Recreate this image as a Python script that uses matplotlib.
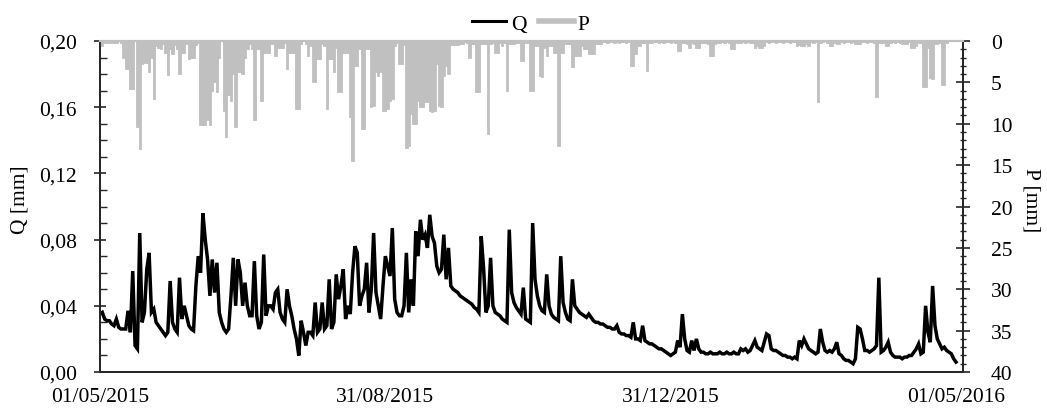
import datetime as dt
import matplotlib.pyplot as plt
import matplotlib.dates as mdates
from matplotlib.lines import Line2D
from matplotlib.ticker import MultipleLocator, FixedLocator, FuncFormatter

start = dt.date(2015, 5, 1)

# daily discharge Q [mm]
q_mm = [
    0.035, 0.036, 0.032, 0.031, 0.031, 0.029, 0.028, 0.032, 0.027, 0.026,
    0.026, 0.026, 0.037, 0.024, 0.061, 0.016, 0.014, 0.084, 0.030, 0.036,
    0.062, 0.072, 0.036, 0.038, 0.030, 0.028, 0.026, 0.024, 0.022, 0.024,
    0.055, 0.030, 0.026, 0.024, 0.057, 0.032, 0.040, 0.034, 0.028, 0.026,
    0.025, 0.052, 0.070, 0.060, 0.096, 0.080, 0.068, 0.046, 0.068, 0.048,
    0.066, 0.036, 0.030, 0.026, 0.024, 0.026, 0.046, 0.069, 0.040, 0.068,
    0.060, 0.040, 0.054, 0.040, 0.034, 0.034, 0.067, 0.034, 0.026, 0.030,
    0.071, 0.034, 0.040, 0.040, 0.038, 0.048, 0.050, 0.036, 0.032, 0.030,
    0.050, 0.040, 0.034, 0.026, 0.020, 0.010, 0.031, 0.024, 0.016, 0.024,
    0.024, 0.022, 0.042, 0.024, 0.026, 0.042, 0.026, 0.028, 0.056, 0.026,
    0.030, 0.059, 0.044, 0.052, 0.062, 0.032, 0.040, 0.035, 0.060, 0.076,
    0.072, 0.040, 0.046, 0.050, 0.066, 0.036, 0.050, 0.084, 0.048, 0.040,
    0.032, 0.052, 0.070, 0.064, 0.058, 0.087, 0.044, 0.036, 0.034, 0.034,
    0.040, 0.072, 0.036, 0.056, 0.040, 0.085, 0.070, 0.092, 0.080, 0.083,
    0.075, 0.095, 0.082, 0.078, 0.064, 0.060, 0.062, 0.083, 0.056, 0.075,
    0.052, 0.050, 0.049, 0.048, 0.046, 0.045, 0.044, 0.043, 0.042, 0.041,
    0.039, 0.038, 0.036, 0.082, 0.063, 0.036, 0.040, 0.069, 0.040, 0.036,
    0.035, 0.034, 0.032, 0.031, 0.030, 0.086, 0.048, 0.042, 0.039, 0.037,
    0.035, 0.051, 0.032, 0.031, 0.030, 0.090, 0.056, 0.046, 0.040, 0.037,
    0.036, 0.059, 0.040, 0.035, 0.033, 0.032, 0.031, 0.070, 0.042, 0.036,
    0.032, 0.031, 0.056, 0.040, 0.038, 0.036, 0.035, 0.034, 0.033, 0.035,
    0.033, 0.031, 0.030, 0.030, 0.029, 0.029, 0.028, 0.027, 0.027, 0.026,
    0.026, 0.028, 0.024, 0.023, 0.023, 0.022, 0.022, 0.021, 0.030, 0.020,
    0.020, 0.019, 0.028, 0.019, 0.018, 0.017, 0.017, 0.016, 0.015, 0.014,
    0.014, 0.013, 0.012, 0.011, 0.010, 0.011, 0.012, 0.019, 0.015, 0.035,
    0.020, 0.013, 0.012, 0.019, 0.013, 0.020, 0.014, 0.012, 0.012, 0.011,
    0.011, 0.012, 0.011, 0.011, 0.011, 0.012, 0.011, 0.011, 0.012, 0.011,
    0.011, 0.012, 0.011, 0.011, 0.014, 0.013, 0.014, 0.012, 0.013, 0.016,
    0.019, 0.015, 0.014, 0.013, 0.018, 0.023, 0.022, 0.014, 0.013, 0.013,
    0.012, 0.011, 0.010, 0.010, 0.009, 0.009, 0.008, 0.009, 0.008, 0.019,
    0.016, 0.020, 0.017, 0.014, 0.013, 0.012, 0.011, 0.012, 0.026, 0.018,
    0.013, 0.012, 0.013, 0.012, 0.014, 0.018, 0.011, 0.010, 0.008, 0.007,
    0.007, 0.006, 0.005, 0.008, 0.027, 0.026, 0.020, 0.013, 0.013, 0.012,
    0.013, 0.014, 0.016, 0.057, 0.012, 0.013, 0.015, 0.018, 0.012, 0.010,
    0.009, 0.009, 0.009, 0.008, 0.009, 0.009, 0.010, 0.010, 0.012, 0.014,
    0.017, 0.011, 0.012, 0.040, 0.024, 0.018, 0.052, 0.028, 0.020, 0.017,
    0.014, 0.015, 0.013, 0.012, 0.011, 0.008, 0.006,
]

# daily precipitation P [mm]
p_mm = [
    0.6, 0.6, 0.3, 0.2, 0.2, 0.2, 0.2, 0.2, 0.0, 0.3,
    2.0, 3.4, 3.4, 5.8, 5.8, 0.0, 10.4, 13.0, 2.8, 2.6,
    2.6, 3.8, 2.0, 7.0, 0.6, 0.8, 1.0, 0.4, 1.5, 4.1,
    1.0, 1.6, 0.5, 1.0, 4.0, 1.5, 1.5, 0.4, 2.2, 2.1,
    2.1, 0.5, 0.3, 10.2, 10.2, 10.2, 9.5, 10.2, 6.0, 5.0,
    6.2, 2.0, 0.0, 8.4, 11.6, 6.5, 7.2, 4.0, 10.4, 3.8,
    3.8, 4.0, 2.0, 1.0, 0.4, 1.0, 9.6, 1.0, 1.0, 7.2,
    1.5, 1.5, 1.5, 0.4, 0.4, 1.8, 0.8, 0.8, 0.8, 0.2,
    3.4, 1.5, 1.5, 1.5, 8.2, 8.2, 0.4, 0.0, 0.4, 1.8,
    0.6, 5.0, 5.0, 2.2, 2.2, 0.4, 0.6, 8.2, 2.2, 2.2,
    3.8, 0.8, 6.2, 6.2, 1.4, 1.4, 1.4, 9.2, 14.5, 3.0,
    3.0, 1.0, 10.6, 10.6, 1.0, 1.0, 8.0, 7.8, 3.8, 4.2,
    3.8, 8.4, 8.4, 8.2, 7.2, 7.0, 0.6, 0.2, 2.8, 2.8,
    0.5, 12.9, 12.7, 8.8, 10.0, 10.0, 7.2, 8.0, 8.0, 7.4,
    7.4, 8.4, 8.6, 8.4, 2.8, 7.8, 8.0, 4.2, 3.0, 4.0,
    0.5, 0.5, 0.5, 0.5, 0.4, 0.4, 0.1, 0.2, 2.0, 0.4,
    0.4, 6.2, 6.2, 0.4, 0.4, 0.4, 11.2, 0.4, 0.2, 1.4,
    1.4, 0.2, 0.6, 0.2, 6.0, 0.4, 0.4, 0.4, 0.3, 0.3,
    2.4, 2.4, 0.3, 0.3, 6.0, 6.0, 0.6, 0.6, 4.2, 4.4,
    0.8, 1.8, 0.6, 0.6, 1.4, 1.4, 12.7, 1.4, 1.4, 0.4,
    0.4, 0.4, 3.2, 1.8, 1.8, 1.8, 0.6, 1.0, 1.0, 1.6,
    1.6, 1.6, 0.4, 0.4, 0.4, 0.1, 0.1, 0.2, 0.1, 0.1,
    0.3, 0.1, 0.2, 0.1, 0.1, 0.2, 0.1, 3.0, 3.0, 1.6,
    0.6, 0.6, 0.2, 0.2, 3.6, 0.2, 0.2, 0.1, 0.1, 0.3,
    0.1, 0.2, 0.1, 0.1, 0.2, 0.1, 0.3, 1.2, 1.2, 0.3,
    0.2, 0.4, 0.8, 0.2, 0.4, 0.8, 0.8, 0.2, 0.2, 0.3,
    0.4, 1.8, 1.8, 0.4, 0.2, 0.2, 0.1, 0.3, 0.1, 0.2,
    1.0, 1.0, 0.3, 0.2, 0.3, 0.1, 0.2, 0.1, 0.2, 0.3,
    0.8, 0.6, 0.8, 0.8, 0.6, 0.1, 0.2, 0.1, 0.1, 0.3,
    0.1, 0.1, 0.2, 0.1, 0.1, 0.2, 0.1, 0.1, 0.6, 0.5,
    0.6, 0.6, 0.4, 0.6, 0.1, 0.2, 0.1, 7.4, 0.2, 0.1,
    0.0, 0.2, 0.6, 0.6, 0.2, 0.4, 0.4, 0.1, 0.2, 0.1,
    0.1, 0.2, 0.1, 0.4, 0.4, 0.4, 0.1, 0.1, 0.2, 0.1,
    0.1, 0.2, 6.8, 0.2, 0.2, 0.2, 0.6, 0.6, 0.2, 0.1,
    0.2, 0.1, 0.2, 0.4, 0.4, 0.4, 0.1, 0.8, 0.8, 0.6,
    0.2, 0.2, 5.6, 5.6, 0.8, 4.5, 4.6, 0.4, 0.4, 0.2,
    5.3, 5.3, 0.2, 0.0, 0.0, 0.0, 0.0,
]

tick_dates = [dt.date(2015, 5, 1), dt.date(2015, 8, 31),
              dt.date(2015, 12, 31), dt.date(2016, 5, 1)]

days = [start + dt.timedelta(days=i) for i in range(len(q_mm))]

plt.rcParams['font.family'] = 'Liberation Serif'
plt.rcParams['font.size'] = 15.5

fig = plt.figure(figsize=(10.47, 4.10), dpi=100)
ax = fig.add_axes([0.0955, 0.0902, 0.8243, 0.8074])
ax2 = ax.twinx()

grey = '#c0c0c0'
ink = '#262626'

# precipitation hangs from the top on the reversed right axis
ax2.bar(days, p_mm, width=1.0, color=grey, edgecolor=grey, linewidth=0.6)
ax2.set_ylim(40, 0)
ax.plot(days, q_mm, color='black', lw=2.5, solid_joinstyle='miter')
ax.set_ylim(0, 0.20)
ax.set_xlim(start, start + dt.timedelta(days=369.5))

ax.xaxis.set_major_locator(FixedLocator(mdates.date2num(tick_dates)))
ax.xaxis.set_major_formatter(mdates.DateFormatter('%d/%m/%Y'))
ax.tick_params(axis='x', length=0, pad=11)

ax.yaxis.set_major_locator(MultipleLocator(0.04))
ax.yaxis.set_minor_locator(MultipleLocator(0.01))
ax.yaxis.set_major_formatter(FuncFormatter(lambda v, _: f'{v:.2f}'.replace('.', ',')))
ax.tick_params(axis='y', which='major', direction='inout', length=9, width=1.2, color=ink, pad=12)
ax.tick_params(axis='y', which='minor', direction='in', length=5, width=1.0, color=ink)

ax2.yaxis.set_major_locator(MultipleLocator(5))
ax2.yaxis.set_minor_locator(MultipleLocator(1))
ax2.tick_params(axis='y', which='major', direction='inout', length=10, width=1.2, color=ink, pad=15)
ax2.tick_params(axis='y', which='minor', direction='inout', length=5, width=1.0, color=ink)

for a in (ax, ax2):
    for side in ('left', 'right', 'bottom'):
        a.spines[side].set_color(ink)
        a.spines[side].set_linewidth(1.3)
    a.spines['top'].set_color(grey)
    a.spines['top'].set_linewidth(1.5)

ax.set_ylabel('Q [mm]')
ax.yaxis.set_label_coords(-0.082, 0.523)
ax2.set_ylabel('P [mm]', rotation=270, va='center')
ax2.yaxis.set_label_coords(1.079, 0.523)

handles = [Line2D([], [], color='black', lw=2.2),
           Line2D([], [], color=grey, lw=4)]
fig.legend(handles, ['Q', 'P'], loc='center', bbox_to_anchor=(0.507, 0.94),
           ncol=2, frameon=False, handlelength=1.6, handletextpad=0.2,
           columnspacing=0.6)

fig.savefig('out.png', dpi=100)
